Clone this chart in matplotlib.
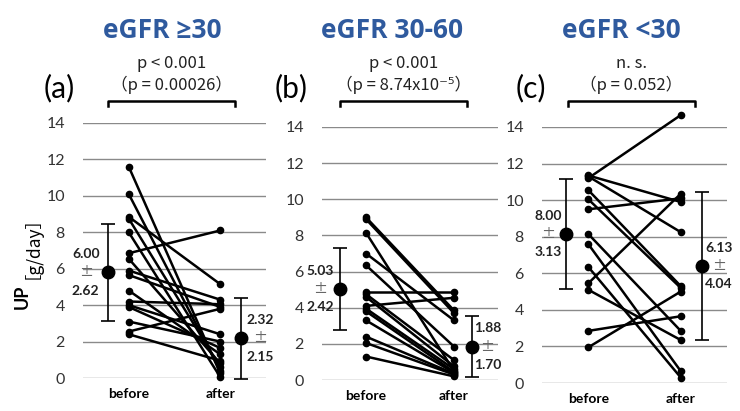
"""Paired before/after UP by eGFR group, three panels."""

import matplotlib
matplotlib.use('Agg')
import matplotlib.pyplot as plt
from matplotlib.lines import Line2D

# ── Data ────────────────────────────────────────────────────────────────────
titles = ['eGFR ≥30', 'eGFR 30-60', 'eGFR <30']
letters = ['(a)', '(b)', '(c)']
p_main = ['p < 0.001', 'p < 0.001', 'n. s.']
p_exact = ['（p = 0.00026）', '（p = 8.74x10⁻⁵）', '（p = 0.052）']
xlabels = ['before', 'after']

a_before = [11.6, 10.1, 8.85, 8.75, 8.0, 6.85, 6.55, 5.9, 5.65, 4.8, 4.2, 4.0, 3.9, 3.1, 2.55, 2.4]
a_after = [0.25, 0.4, 5.15, 0.6, 0.05, 8.1, 0.8, 4.3, 3.9, 1.3, 4.05, 2.4, 1.65, 2.0, 3.8, 0.95]

b_before = [9.0, 8.9, 8.15, 7.0, 6.35, 4.85, 4.75, 4.6, 4.1, 3.95, 3.8, 3.3, 2.4, 2.05, 1.3]
b_after = [3.85, 3.7, 0.5, 3.3, 1.85, 4.85, 1.1, 0.75, 4.55, 0.6, 0.45, 0.4, 0.35, 0.3, 0.2]

c_before = [11.2, 11.35, 11.3, 10.55, 10.05, 9.5, 8.15, 7.6, 6.35, 5.45, 5.1, 2.85, 1.95]
c_after = [14.65, 9.9, 8.25, 5.3, 5.2, 10.1, 2.85, 0.65, 0.3, 10.35, 2.35, 3.65, 5.0]

mean_before = [5.8, 5.03, 8.15]
sd_before = [2.68, 2.26, 3.03]
mean_after = [2.17, 1.85, 6.4]
sd_after = [2.24, 1.70, 4.05]
lbl_before = [('6.00', '2.62'), ('5.03', '2.42'), ('8.00', '3.13')]
lbl_after = [('2.32', '2.15'), ('1.88', '1.70'), ('6.13', '4.04')]

befores = [a_before, b_before, c_before]
afters = [a_after, b_after, c_after]

# ── Layout (pixel boxes for each panel) ─────────────────────────────────────
W, H = 740, 411
boxes = [(83, 266, 123, 378), (322, 498, 127, 380), (542, 727, 127, 383)]  # x0, x1, ytop, ybot
mean_x = [(0.77, 2.23), (0.71, 2.2), (0.76, 2.23)]
lbl_x = [(0.53, 2.44), (0.48, 2.38), (0.565, 2.41)]
title_x = [162, 392, 621]
letter_x = [59, 291, 531]
brackets = [(108, 235), (340, 467), (568, 695)]

FONT = ['Lato', 'Noto Sans CJK JP', 'DejaVu Sans']
CJK = ['Noto Sans CJK JP', 'DejaVu Sans']
BLUE = '#2F5A9E'
plt.rcParams['font.family'] = FONT


def fx(x):
    return x / W


def fy(y):
    return 1 - y / H


fig = plt.figure(figsize=(7.4, 4.11), dpi=100)

for i in range(3):
    x0, x1, yt, yb = boxes[i]
    ax = fig.add_axes([fx(x0), fy(yb), (x1 - x0) / W, (yb - yt) / H])
    ax.set_xlim(0.5, 2.5)
    ax.set_ylim(0, 14)
    for s in ax.spines.values():
        s.set_visible(False)
    ax.set_yticks(range(0, 15, 2))
    ax.grid(axis='y', color='#8a8a8a', lw=1)
    ax.set_axisbelow(True)
    ax.tick_params(axis='y', length=0, pad=13, labelsize=11.5, labelcolor='#333333')
    ax.set_xticks([1, 2])
    ax.set_xticklabels(xlabels, fontweight='bold', fontsize=10)
    ax.tick_params(axis='x', length=0, pad=7)

    # paired lines
    for b, a in zip(befores[i], afters[i]):
        ax.plot([1, 2], [b, a], color='black', lw=1.8, marker='o', ms=4.5,
                clip_on=False, zorder=3)

    # mean ± SD
    mb, ma = mean_x[i]
    ax.errorbar(mb, mean_before[i], yerr=sd_before[i], fmt='o', color='black',
                ms=9, capsize=5, elinewidth=1.2, capthick=1.2, clip_on=False, zorder=4)
    ax.errorbar(ma, mean_after[i], yerr=sd_after[i], fmt='o', color='black',
                ms=9, capsize=5, elinewidth=1.2, capthick=1.2, clip_on=False, zorder=4)

    for lx, m, (top, bot) in [(lbl_x[i][0], mean_before[i], lbl_before[i]),
                              (lbl_x[i][1], mean_after[i], lbl_after[i])]:
        ax.text(lx, m + 1.0, top, ha='center', va='center', fontsize=10,
                fontweight='bold', color='#222222')
        ax.text(lx, m, '±', ha='center', va='center', fontsize=10,
                color='#666666', family=CJK)
        ax.text(lx, m - 1.0, bot, ha='center', va='center', fontsize=10,
                fontweight='bold', color='#222222')

    # headers
    fig.text(fx(title_x[i]), fy(31), titles[i], ha='center', va='center',
             fontsize=19, fontweight='bold', color=BLUE,
             family=['Open Sans', 'Noto Sans CJK JP', 'DejaVu Sans'])
    fig.text(fx(letter_x[i]), fy(88), letters[i], ha='center', va='center',
             fontsize=21.5)
    cx = (brackets[i][0] + brackets[i][1]) / 2
    fig.text(fx(cx), fy(64), p_main[i], ha='center', va='center',
             fontsize=12, family=CJK, color='#222222')
    fig.text(fx(cx), fy(85), p_exact[i], ha='center', va='center',
             fontsize=12, family=CJK, color='#222222')

    bx0, bx1 = brackets[i]
    fig.add_artist(Line2D([fx(bx0), fx(bx0), fx(bx1), fx(bx1)],
                          [fy(106), fy(101), fy(101), fy(106)],
                          color='black', lw=1.8, transform=fig.transFigure))

# y label
fig.text(fx(22), fy(297), 'UP', rotation=90, ha='center', va='center',
         fontsize=13, fontweight='bold')
fig.text(fx(23), fy(239), '［g/day］', rotation=90, ha='center', va='center',
         fontsize=12.5, family=CJK)

plt.savefig('out.png', dpi=100)
plt.close()
